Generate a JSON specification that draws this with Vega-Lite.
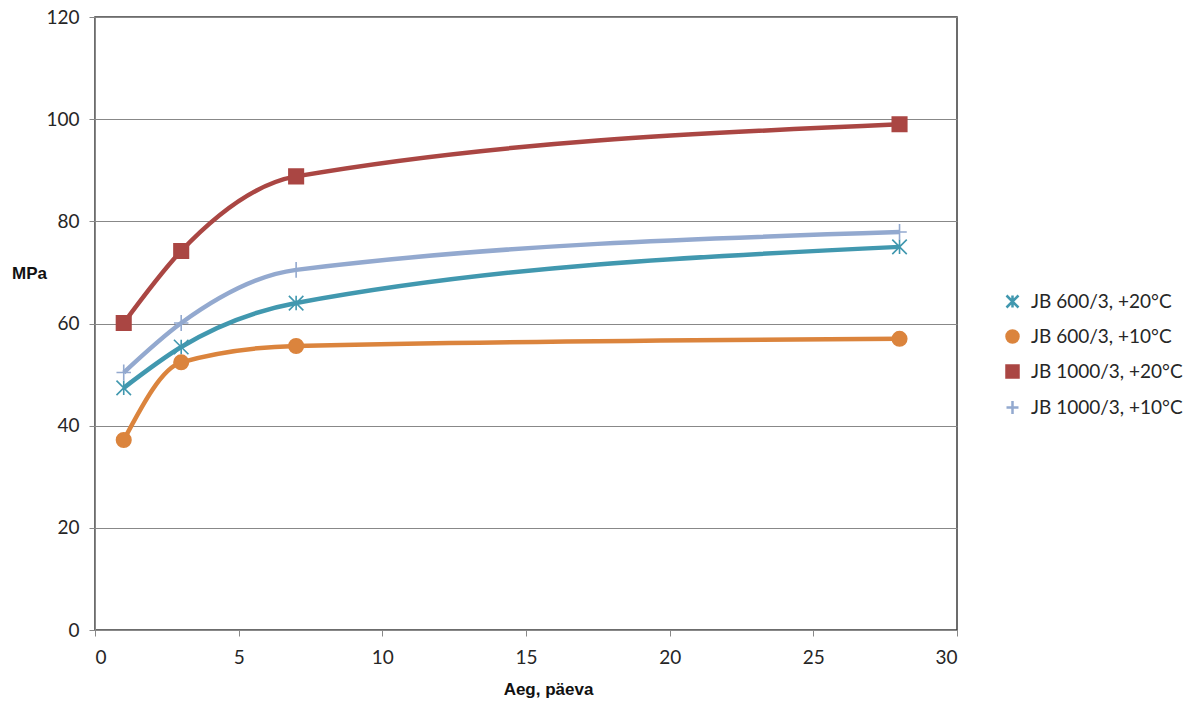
{
  "$schema": "https://vega.github.io/schema/vega-lite/v6.json",
  "width": 862,
  "height": 613,
  "autosize": {"type": "none"},
  "padding": {"left": 95, "top": 17, "right": 240, "bottom": 77},
  "background": "white",
  "config": {
    "view": {"stroke": "#3c3c3c", "strokeWidth": 1.5},
    "font": "Lato",
    "axis": {
      "labelFont": "Lato",
      "labelFontSize": 19,
      "labelColor": "#262626",
      "domainColor": "#888888",
      "tickColor": "#888888",
      "tickSize": 6,
      "titleFont": "Liberation Sans",
      "titleFontWeight": "bold",
      "titleFontSize": 17,
      "titleColor": "#111111",
      "zindex": 1
    },
    "legend": {"labelFont": "Lato", "labelFontSize": 19, "labelColor": "#262626"}
  },
  "data": {
    "values": [
      {"series": "JB 600/3, +20°C", "day": 1, "mpa": 47.4},
      {"series": "JB 600/3, +20°C", "day": 3, "mpa": 55.4},
      {"series": "JB 600/3, +20°C", "day": 7, "mpa": 64.0},
      {"series": "JB 600/3, +20°C", "day": 28, "mpa": 75.0},
      {"series": "JB 600/3, +10°C", "day": 1, "mpa": 37.2},
      {"series": "JB 600/3, +10°C", "day": 3, "mpa": 52.4},
      {"series": "JB 600/3, +10°C", "day": 7, "mpa": 55.6},
      {"series": "JB 600/3, +10°C", "day": 28, "mpa": 57.0},
      {"series": "JB 1000/3, +20°C", "day": 1, "mpa": 60.1},
      {"series": "JB 1000/3, +20°C", "day": 3, "mpa": 74.2},
      {"series": "JB 1000/3, +20°C", "day": 7, "mpa": 88.8},
      {"series": "JB 1000/3, +20°C", "day": 28, "mpa": 99.0},
      {"series": "JB 1000/3, +10°C", "day": 1, "mpa": 50.4},
      {"series": "JB 1000/3, +10°C", "day": 3, "mpa": 60.1},
      {"series": "JB 1000/3, +10°C", "day": 7, "mpa": 70.5},
      {"series": "JB 1000/3, +10°C", "day": 28, "mpa": 77.9}
    ]
  },
  "encoding": {
    "x": {
      "field": "day",
      "type": "quantitative",
      "title": "Aeg, päeva",
      "scale": {"domain": [0, 30], "nice": false},
      "axis": {"values": [0, 5, 10, 15, 20, 25, 30], "grid": false, "labelPadding": 12, "titlePadding": 14, "titleX": 453}
    },
    "y": {
      "field": "mpa",
      "type": "quantitative",
      "title": "MPa",
      "scale": {"domain": [0, 120], "nice": false},
      "axis": {
        "values": [0, 20, 40, 60, 80, 100, 120],
        "grid": true,
        "gridColor": "#888888",
        "labelPadding": 10,
        "titleAngle": 0,
        "titleAlign": "center",
        "titleBaseline": "middle",
        "titleX": -66,
        "titleY": 256
      }
    },
    "color": {
      "field": "series",
      "type": "nominal",
      "title": null,
      "scale": {
        "domain": ["JB 600/3, +20°C", "JB 600/3, +10°C", "JB 1000/3, +20°C", "JB 1000/3, +10°C"],
        "range": ["#4198AF", "#DB843D", "#AA4643", "#93A9CF"]
      },
      "legend": {
        "orient": "none",
        "legendX": 908,
        "legendY": 275,
        "padding": 0,
        "rowPadding": 12,
        "labelOffset": 9,
        "symbolSize": 144,
        "symbolStrokeWidth": 2.5
      }
    }
  },
  "layer": [
    {
      "mark": {"type": "line", "interpolate": "monotone", "strokeWidth": 4.5}
    },
    {
      "mark": {"type": "point", "filled": true, "opacity": 1, "size": 210, "strokeWidth": 1.6},
      "encoding": {
        "shape": {
          "field": "series",
          "type": "nominal",
          "legend": null,
          "scale": {
            "domain": ["JB 600/3, +20°C", "JB 600/3, +10°C", "JB 1000/3, +20°C", "JB 1000/3, +10°C"],
            "range": ["M-1,-1L1,1M-1,1L1,-1M0,-1L0,1", "circle", "square", "M-1,0L1,0M0,-1.1L0,1.1"]
          }
        },
        "stroke": {
          "field": "series",
          "type": "nominal",
          "legend": null,
          "scale": {
            "domain": ["JB 600/3, +20°C", "JB 600/3, +10°C", "JB 1000/3, +20°C", "JB 1000/3, +10°C"],
            "range": ["#4198AF", "#DB843D", "#AA4643", "#93A9CF"]
          }
        }
      }
    }
  ]
}
